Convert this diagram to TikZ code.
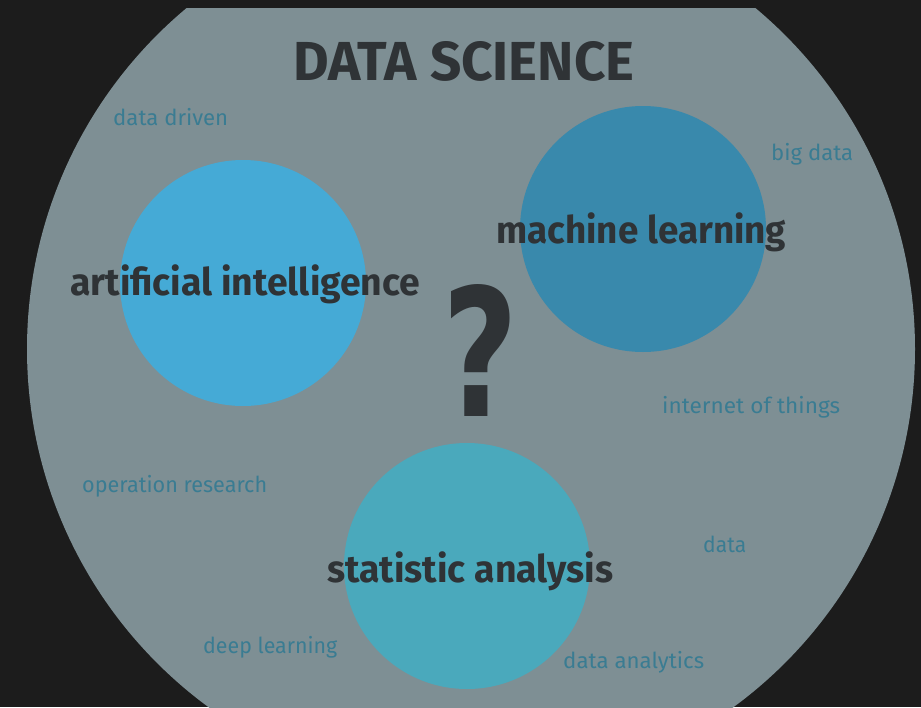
\documentclass[tikz,border=0pt]{standalone}
\usepackage{fontspec}
\usepackage{graphicx}
\setmainfont{Fira Sans}
\newfontfamily\qfont{DejaVu Sans}
\definecolor{bgdark}{HTML}{1C1C1C}
\definecolor{disc}{HTML}{7E8F94}
\definecolor{aiblue}{HTML}{45AAD6}
\definecolor{mlblue}{HTML}{3989AC}
\definecolor{stteal}{HTML}{4AA9BC}
\definecolor{darktext}{HTML}{2F3336}
\definecolor{smalltext}{HTML}{3A7C92}
\newcommand\fitw[2]{\resizebox{#1pt}{\height}{#2}}
\tikzset{
  topic/.style={circle, inner sep=0pt, minimum size=246pt, draw=none},
  biglabel/.style={inner sep=0pt, anchor=base west, text=darktext, font=\bfseries\fontsize{38}{40}\selectfont},
  smalllabel/.style={inner sep=0pt, anchor=base west, text=smalltext, font=\fontsize{22}{24}\selectfont},
}
\begin{document}
\begin{tikzpicture}[x=1pt,y=-1pt]
  \fill[bgdark] (0,0) rectangle (921,707);
  \useasboundingbox (0,0) rectangle (921,707);
  \begin{scope}
    \clip (0,8) rectangle (921,707);
    \fill[disc] (471,349) circle (444);
  \end{scope}
  \node[topic, fill=aiblue] (ai) at (243,283) {};
  \node[topic, fill=mlblue] (ml) at (643,229) {};
  \node[topic, fill=stteal] (st) at (467,566) {};

  \node[inner sep=0pt, anchor=south west, text=darktext, font=\bfseries] (title) at (293,82) {\resizebox{341pt}{39pt}{DATA SCIENCE}};
  \node[inner sep=0pt, anchor=south west, text=darktext, font=\qfont\bfseries] (qm) at (442,417) {\resizebox{76pt}{132pt}{?}};

  \node[biglabel] (mltext) at (496,243) {\fitw{290}{machine learning}};
  \node[biglabel] (aitext) at (70,295) {\fitw{350}{artificial intelligence}};
  \node[biglabel] (sttext) at (327,582) {\fitw{286}{statistic analysis}};

  \node[smalllabel] (dd) at (113,125) {\fitw{115}{data driven}};
  \node[smalllabel] (bd) at (771,160) {\fitw{82}{big data}};
  \node[smalllabel] (iot) at (662,413) {\fitw{178}{internet of things}};
  \node[smalllabel] (or) at (82,492) {\fitw{185}{operation research}};
  \node[smalllabel] (dt) at (703,552) {\fitw{43}{data}};
  \node[smalllabel] (dl) at (203,653) {\fitw{134}{deep learning}};
  \node[smalllabel] (da) at (563,668) {\fitw{141}{data analytics}};
\end{tikzpicture}
\end{document}
